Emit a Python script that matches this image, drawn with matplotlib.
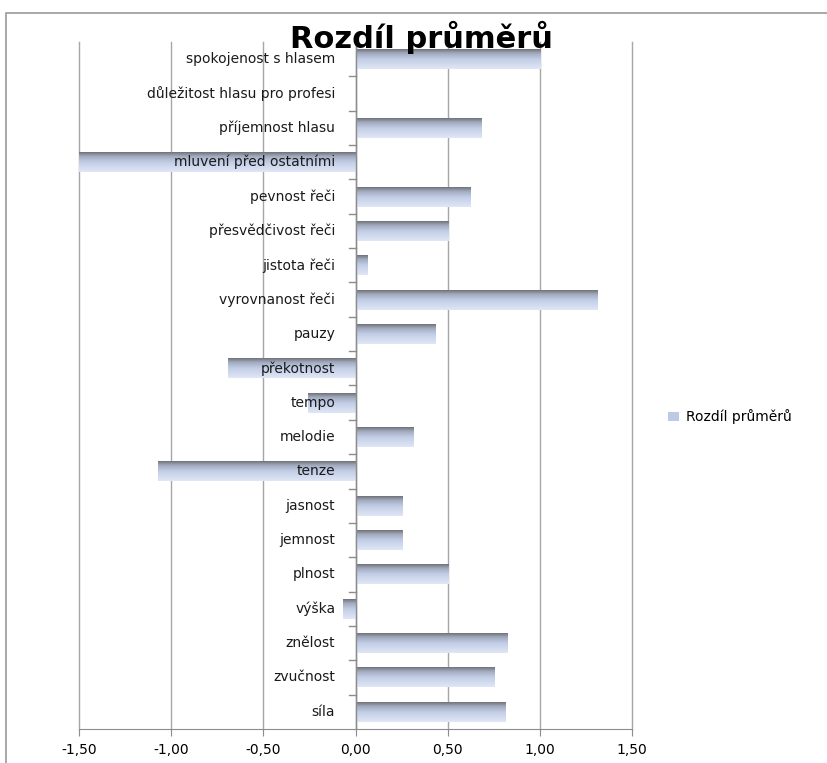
import numpy as np
import matplotlib.pyplot as plt
from matplotlib.colors import LinearSegmentedColormap
from matplotlib.patches import Rectangle, Patch
from matplotlib.ticker import FuncFormatter, MultipleLocator

plt.rcParams['font.family'] = ['DejaVu Sans']

# categories listed bottom to top
kategorie = ["síla", "zvučnost", "znělost", "výška", "plnost", "jemnost",
             "jasnost", "tenze", "melodie", "tempo", "překotnost", "pauzy",
             "vyrovnanost řeči", "jistota řeči", "přesvědčivost řeči",
             "pevnost řeči", "mluvení před ostatními", "příjemnost hlasu",
             "důležitost hlasu pro profesi", "spokojenost s hlasem"]
rozdil = [0.81, 0.75, 0.82, -0.07, 0.50, 0.25,
          0.25, -1.07, 0.31, -0.26, -0.69, 0.43,
          1.31, 0.06, 0.50,
          0.62, -1.50, 0.68,
          0.00, 1.00]

fig = plt.figure(figsize=(8.27, 7.63), dpi=100)
ax = fig.add_axes([79 / 827, 1 - 729 / 763, (632 - 79) / 827, (729 - 42) / 763])

# chart area border (top and left edges visible)
fig.patches.append(Rectangle((6 / 827, -0.1), 1.2, 1 - 13 / 763 + 0.1,
                             transform=fig.transFigure, fill=False,
                             edgecolor='#9a9a9a', linewidth=1.2))

grad = LinearSegmentedColormap.from_list(
    "bar", [(0.0, "#707378"), (0.2, "#a0a9bd"), (0.5, "#c2cde6"), (1.0, "#e0e7f6")])
gradient = np.linspace(0, 1, 64).reshape(-1, 1)

y = np.arange(len(kategorie))
bars = ax.barh(y, rozdil, height=0.58, color='none', edgecolor='none', zorder=2)
for b in bars:
    x0, y0 = b.get_x(), b.get_y()
    w, h = b.get_width(), b.get_height()
    if w == 0:
        continue
    ax.imshow(gradient, cmap=grad, aspect='auto', origin='upper',
              extent=(min(x0, x0 + w), max(x0, x0 + w), y0, y0 + h), zorder=2)

ax.set_xlim(-1.5, 1.5)
ax.set_ylim(-0.5, len(kategorie) - 0.5)
ax.xaxis.set_major_locator(MultipleLocator(0.5))
ax.xaxis.set_major_formatter(FuncFormatter(lambda v, p: f"{v:.2f}".replace('.', ',')))
for gx in np.arange(-1.5, 1.51, 0.5):
    ax.axvline(gx, color='#a6a6a6', linewidth=1.0, zorder=0, clip_on=False)
for s in ['top', 'right', 'left']:
    ax.spines[s].set_visible(False)
ax.spines['bottom'].set_color('#8c8c8c')
ax.tick_params(axis='x', length=5, color='#8c8c8c', labelsize=10, pad=5)
ax.set_yticks([])

# zero axis with category tick marks
ax.axvline(0, color='#8c8c8c', linewidth=1.0, zorder=3)
for b in np.arange(0.5, len(kategorie) - 0.5, 1):
    ax.plot([-0.035, 0], [b, b], color='#8c8c8c', linewidth=1.0, zorder=3)

for yi, lab in zip(y, kategorie):
    ax.text(-0.11, yi, lab, ha='right', va='center', fontsize=10,
            color='#1a1a1a', zorder=4)

fig.text(421 / 827, 1 - 37 / 763, "Rozdíl průměrů", ha='center', va='center',
         fontsize=22, fontweight='bold')

fig.legend(handles=[Patch(facecolor='#bccae6', edgecolor='none')],
           labels=["Rozdíl průměrů"], loc='center left',
           bbox_to_anchor=(655 / 827, 1 - 417 / 763), frameon=False,
           fontsize=10, handlelength=0.8, handleheight=0.6, handletextpad=0.5)

fig.savefig("out.png", dpi=100)
